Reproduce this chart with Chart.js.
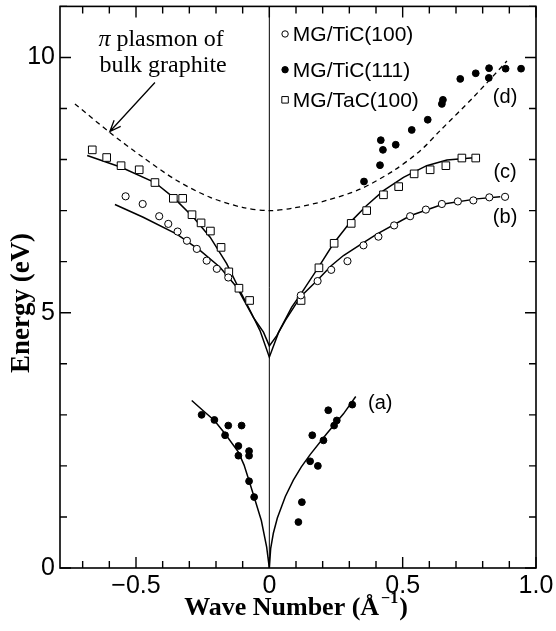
<!DOCTYPE html>
<html>
<head>
<meta charset="utf-8">
<script src="https://cdn.jsdelivr.net/npm/chart.js@4.4.1/dist/chart.umd.min.js"></script>
<style>
  html, body { margin: 0; padding: 0; background: #fff; }
</style>
</head>
<body>
<canvas id="c" width="556" height="631"></canvas>
<script>
// Axis ticks
const xTicks = [-0.5, 0, 0.5, 1.0];
const xTickLabels = ['\u22120.5', '0', '0.5', '1.0'];
const yTicks = [0, 5, 10];
const yTickLabels = ['0', '5', '10'];
const xMinor = [-0.7, -0.6, -0.5, -0.4, -0.3, -0.2, -0.1, 0, 0.1, 0.2, 0.3, 0.4, 0.5, 0.6, 0.7, 0.8, 0.9, 1.0];
const yMinor = [0, 1, 2, 3, 4, 5, 6, 7, 8, 9, 10, 11];

// Measured points
const tic100X = [-0.539, -0.475, -0.413, -0.379, -0.344, -0.309, -0.272, -0.235, -0.197, -0.154,
  0.118, 0.181, 0.232, 0.293, 0.353, 0.409, 0.468, 0.528, 0.587, 0.647, 0.707, 0.765, 0.825, 0.884];
const tic100Y = [7.28, 7.13, 6.89, 6.74, 6.59, 6.41, 6.25, 6.02, 5.86, 5.69,
  5.34, 5.62, 5.84, 6.01, 6.32, 6.49, 6.71, 6.89, 7.02, 7.13, 7.18, 7.20, 7.26, 7.27];

const tic111X = [-0.254, -0.206, -0.166, -0.154, -0.116, -0.116, -0.104, -0.076, -0.076, -0.076, -0.057,
  0.109, 0.122, 0.153, 0.161, 0.182, 0.203, 0.221, 0.243, 0.253, 0.311,
  0.355, 0.415, 0.418, 0.426, 0.474, 0.534, 0.594, 0.647, 0.651, 0.716, 0.774, 0.823, 0.824, 0.886, 0.944];
const tic111Y = [3.00, 2.90, 2.60, 2.79, 2.39, 2.20, 2.79, 2.29, 2.20, 1.70, 1.39,
  0.90, 1.29, 2.09, 2.60, 2.00, 2.50, 3.09, 2.79, 2.89, 3.20,
  7.57, 7.89, 8.38, 8.19, 8.29, 8.58, 8.78, 9.09, 9.17, 9.58, 9.69, 9.60, 9.79, 9.78, 9.78];

const tac100X = [-0.664, -0.610, -0.556, -0.488, -0.429, -0.360, -0.325, -0.290, -0.256, -0.221, -0.181, -0.152, -0.114, -0.074,
  0.119, 0.186, 0.243, 0.307, 0.365, 0.428, 0.485, 0.543, 0.603, 0.662, 0.722, 0.774];
const tac100Y = [8.19, 8.04, 7.88, 7.80, 7.55, 7.24, 7.24, 6.92, 6.76, 6.60, 6.28, 5.80, 5.48, 5.24,
  5.24, 5.88, 6.36, 6.75, 7.00, 7.31, 7.47, 7.72, 7.80, 7.88, 8.03, 8.03];

// Model curves (a)-(d)
const curveAX = [-0.291, -0.25, -0.206, -0.166, -0.116, -0.095, -0.076, -0.057, -0.03, -0.01, 0,
  0.005, 0.015, 0.03, 0.06, 0.09, 0.12, 0.153, 0.215, 0.278, 0.324];
const curveAY = [3.28, 3.09, 2.89, 2.63, 2.27, 2.02, 1.71, 1.39, 0.93, 0.41, 0,
  0.38, 0.68, 0.98, 1.40, 1.72, 1.98, 2.22, 2.63, 3.02, 3.36];

const curveBX = [-0.579, -0.473, -0.347, -0.260, -0.185, -0.122, -0.060, -0.022, 0, 0.028, 0.06, 0.118, 0.181, 0.232, 0.278, 0.34, 0.403, 0.528, 0.653, 0.778, 0.866];
const curveBY = [7.12, 6.87, 6.54, 6.22, 5.89, 5.50, 4.91, 4.62, 4.35, 4.55, 4.85, 5.32, 5.64, 5.92, 6.12, 6.33, 6.54, 6.90, 7.13, 7.23, 7.27];

const curveCX = [-0.683, -0.556, -0.429, -0.360, -0.285, -0.222, -0.160, -0.110, -0.066, -0.035, 0, 0.035, 0.084, 0.121, 0.184, 0.240, 0.303, 0.365, 0.428, 0.503, 0.590, 0.666, 0.778];
const curveCY = [8.08, 7.85, 7.55, 7.26, 6.87, 6.48, 5.96, 5.43, 4.98, 4.65, 4.13, 4.62, 5.11, 5.39, 5.89, 6.35, 6.77, 7.10, 7.39, 7.65, 7.88, 7.99, 8.04];

const curveDX = [-0.729, -0.598, -0.473, -0.347, -0.222, -0.098, 0, 0.09, 0.215, 0.34, 0.465, 0.565, 0.641, 0.765, 0.891];
const curveDY = [9.09, 8.53, 8.04, 7.59, 7.26, 7.06, 7.00, 7.05, 7.20, 7.42, 7.78, 8.17, 8.57, 9.22, 9.93];

const zeroX = [0, 0];
const zeroY = [0, 11];

const legendNames = ['MG/TiC(100)', 'MG/TiC(111)', 'MG/TaC(100)'];

function pts(xs, ys) {
  return xs.map((x, i) => ({ x: x, y: ys[i] }));
}

const SANS = '"Liberation Sans", Arial, sans-serif';
const SERIF = '"Liberation Serif", "Times New Roman", serif';

const markerTiC100 = { pointStyle: 'circle', radius: 3.6, fill: '#fff', border: '#000', borderWidth: 1 };
const markerTiC111 = { pointStyle: 'circle', radius: 3.4, fill: '#000', border: '#000', borderWidth: 1 };
const markerTaC100 = { pointStyle: 'rect', radius: 5.4, fill: '#fff', border: '#000', borderWidth: 1 };
const markers = [markerTiC100, markerTiC111, markerTaC100];

function pointSet(label, data, m) {
  return {
    label: label,
    data: data,
    showLine: false,
    pointStyle: m.pointStyle,
    pointRadius: m.radius,
    pointBackgroundColor: m.fill,
    pointBorderColor: m.border,
    pointBorderWidth: m.borderWidth,
    order: 1
  };
}

function lineSet(data, dash, tension, width) {
  return {
    data: data,
    showLine: true,
    pointRadius: 0,
    borderColor: '#000',
    borderWidth: width,
    borderDash: dash,
    tension: tension,
    fill: false,
    order: 2
  };
}

// Annotations: text, arrow, legend, axis titles and the inward ticks/frame
const decorations = {
  id: 'decorations',
  afterDraw(chart) {
    const { ctx, chartArea: a, scales: { x, y } } = chart;
    ctx.save();
    ctx.strokeStyle = '#000';
    ctx.fillStyle = '#000';

    // frame
    ctx.lineWidth = 1.6;
    ctx.strokeRect(a.left, a.top, a.right - a.left, a.bottom - a.top);

    // inward ticks
    ctx.lineWidth = 1.4;
    ctx.beginPath();
    xMinor.forEach(v => {
      const px = x.getPixelForValue(v);
      const major = Math.abs(v / 0.5 - Math.round(v / 0.5)) < 1e-6;
      const len = major ? 11 : 7;
      ctx.moveTo(px, a.bottom); ctx.lineTo(px, a.bottom - len);
      ctx.moveTo(px, a.top); ctx.lineTo(px, a.top + len);
    });
    yMinor.forEach(v => {
      const py = y.getPixelForValue(v);
      const major = v % 5 === 0;
      const len = major ? 11 : 7;
      ctx.moveTo(a.left, py); ctx.lineTo(a.left + len, py);
      ctx.moveTo(a.right, py); ctx.lineTo(a.right - len, py);
    });
    ctx.stroke();

    // arrow to the plasmon curve
    const ax0 = x.getPixelForValue(-0.429), ay0 = y.getPixelForValue(9.51);
    const ax1 = x.getPixelForValue(-0.598), ay1 = y.getPixelForValue(8.55);
    ctx.lineWidth = 1.3;
    ctx.beginPath();
    ctx.moveTo(ax0, ay0); ctx.lineTo(ax1, ay1);
    const ang = Math.atan2(ay1 - ay0, ax1 - ax0);
    const hl = 12, spread = 0.38;
    ctx.moveTo(ax1 - hl * Math.cos(ang - spread), ay1 - hl * Math.sin(ang - spread));
    ctx.lineTo(ax1, ay1);
    ctx.lineTo(ax1 - hl * Math.cos(ang + spread), ay1 - hl * Math.sin(ang + spread));
    ctx.stroke();

    // plasmon note
    ctx.textBaseline = 'middle';
    ctx.textAlign = 'left';
    const noteCx = x.getPixelForValue(-0.406);
    const line1Y = y.getPixelForValue(10.34);
    const line2Y = y.getPixelForValue(9.83);
    ctx.font = 'italic 24px ' + SERIF;
    const piW = ctx.measureText('\u03c0').width;
    ctx.font = '24px ' + SERIF;
    const restW = ctx.measureText(' plasmon of').width;
    const sx = noteCx - (piW + restW) / 2;
    ctx.font = 'italic 24px ' + SERIF;
    ctx.fillText('\u03c0', sx, line1Y);
    ctx.font = '24px ' + SERIF;
    ctx.fillText(' plasmon of', sx + piW, line1Y);
    ctx.textAlign = 'center';
    ctx.fillText('bulk graphite', noteCx + 2, line2Y);

    // curve labels
    ctx.font = '20px ' + SANS;
    ctx.textAlign = 'center';
    ctx.fillText('(a)', x.getPixelForValue(0.416), y.getPixelForValue(3.22));
    ctx.fillText('(b)', x.getPixelForValue(0.884), y.getPixelForValue(6.86));
    ctx.fillText('(c)', x.getPixelForValue(0.884), y.getPixelForValue(7.75));
    ctx.fillText('(d)', x.getPixelForValue(0.884), y.getPixelForValue(9.22));

    // legend
    const legY = [10.46, 9.76, 9.17];
    const mx = x.getPixelForValue(0.059);
    const tx = x.getPixelForValue(0.088);
    ctx.font = '21px ' + SANS;
    ctx.textAlign = 'left';
    legendNames.forEach((name, i) => {
      const py = y.getPixelForValue(legY[i]);
      const m = markers[i];
      ctx.fillStyle = m.fill;
      ctx.strokeStyle = m.border;
      ctx.lineWidth = m.borderWidth;
      Chart.helpers.drawPoint(ctx, { pointStyle: m.pointStyle, radius: m.pointStyle === 'rect' ? 4.6 : 3.2, rotation: 0, borderWidth: 1 }, mx, py);
      ctx.fillStyle = '#000';
      ctx.fillText(name, tx, py + 1);
    });

    // x axis title with a real superscript
    ctx.textBaseline = 'alphabetic';
    ctx.textAlign = 'left';
    const base = 615;
    const mainFont = 'bold 26px ' + SERIF;
    const supFont = 'bold 16px ' + SERIF;
    ctx.font = mainFont;
    const w1 = ctx.measureText('Wave Number (\u00c5').width;
    const w3 = ctx.measureText(')').width;
    ctx.font = supFont;
    const w2 = ctx.measureText('\u22121').width + 3;
    const tx0 = (a.left + a.right) / 2 - 2 - (w1 + w2 + w3) / 2;
    ctx.font = mainFont;
    ctx.fillText('Wave Number (\u00c5', tx0, base);
    ctx.font = supFont;
    ctx.fillText('\u22121', tx0 + w1 + 2, base - 12);
    ctx.font = mainFont;
    ctx.fillText(')', tx0 + w1 + w2, base);

    // y axis title
    ctx.save();
    ctx.translate(22, 303);
    ctx.rotate(-Math.PI / 2);
    ctx.textAlign = 'center';
    ctx.textBaseline = 'middle';
    ctx.font = 'bold 27px ' + SERIF;
    ctx.fillText('Energy (eV)', 0, 0);
    ctx.restore();

    ctx.restore();
  }
};

new Chart(document.getElementById('c'), {
  type: 'scatter',
  data: {
    datasets: [
      pointSet('MG/TiC(100)', pts(tic100X, tic100Y), markerTiC100),
      pointSet('MG/TiC(111)', pts(tic111X, tic111Y), markerTiC111),
      pointSet('MG/TaC(100)', pts(tac100X, tac100Y), markerTaC100),
      lineSet(pts(curveAX, curveAY), [], 0, 1.5),
      lineSet(pts(curveBX, curveBY), [], 0, 1.5),
      lineSet(pts(curveCX, curveCY), [], 0, 1.5),
      lineSet(pts(curveDX, curveDY), [5, 4], 0.3, 1.3),
      lineSet(pts(zeroX, zeroY), [], 0, 1)
    ]
  },
  options: {
    responsive: false,
    animation: false,
    devicePixelRatio: 1,
    layout: { padding: { top: 6, right: 20, left: 0, bottom: 0 } },
    plugins: { legend: { display: false }, tooltip: { enabled: false } },
    scales: {
      x: {
        type: 'linear',
        min: -0.785,
        max: 1.0,
        afterBuildTicks: s => { s.ticks = xTicks.map(v => ({ value: v })); },
        afterFit: s => { s.height = 63; s.paddingLeft = 0; s.paddingRight = 0; },
        grid: { display: false, drawTicks: false },
        border: { display: false },
        ticks: {
          callback: v => xTickLabels[xTicks.indexOf(v)],
          font: { family: SANS, size: 25 },
          color: '#000',
          padding: 3,
          maxRotation: 0,
          autoSkip: false
        }
      },
      y: {
        type: 'linear',
        min: 0,
        max: 11,
        afterBuildTicks: s => { s.ticks = yTicks.map(v => ({ value: v })); },
        afterFit: s => { s.width = 60; s.paddingTop = 0; s.paddingBottom = 0; },
        grid: { display: false, drawTicks: false },
        border: { display: false },
        ticks: {
          callback: v => yTickLabels[yTicks.indexOf(v)],
          font: { family: SANS, size: 25 },
          color: '#000',
          padding: 5,
          autoSkip: false
        }
      }
    }
  },
  plugins: [decorations]
});
</script>
</body>
</html>
